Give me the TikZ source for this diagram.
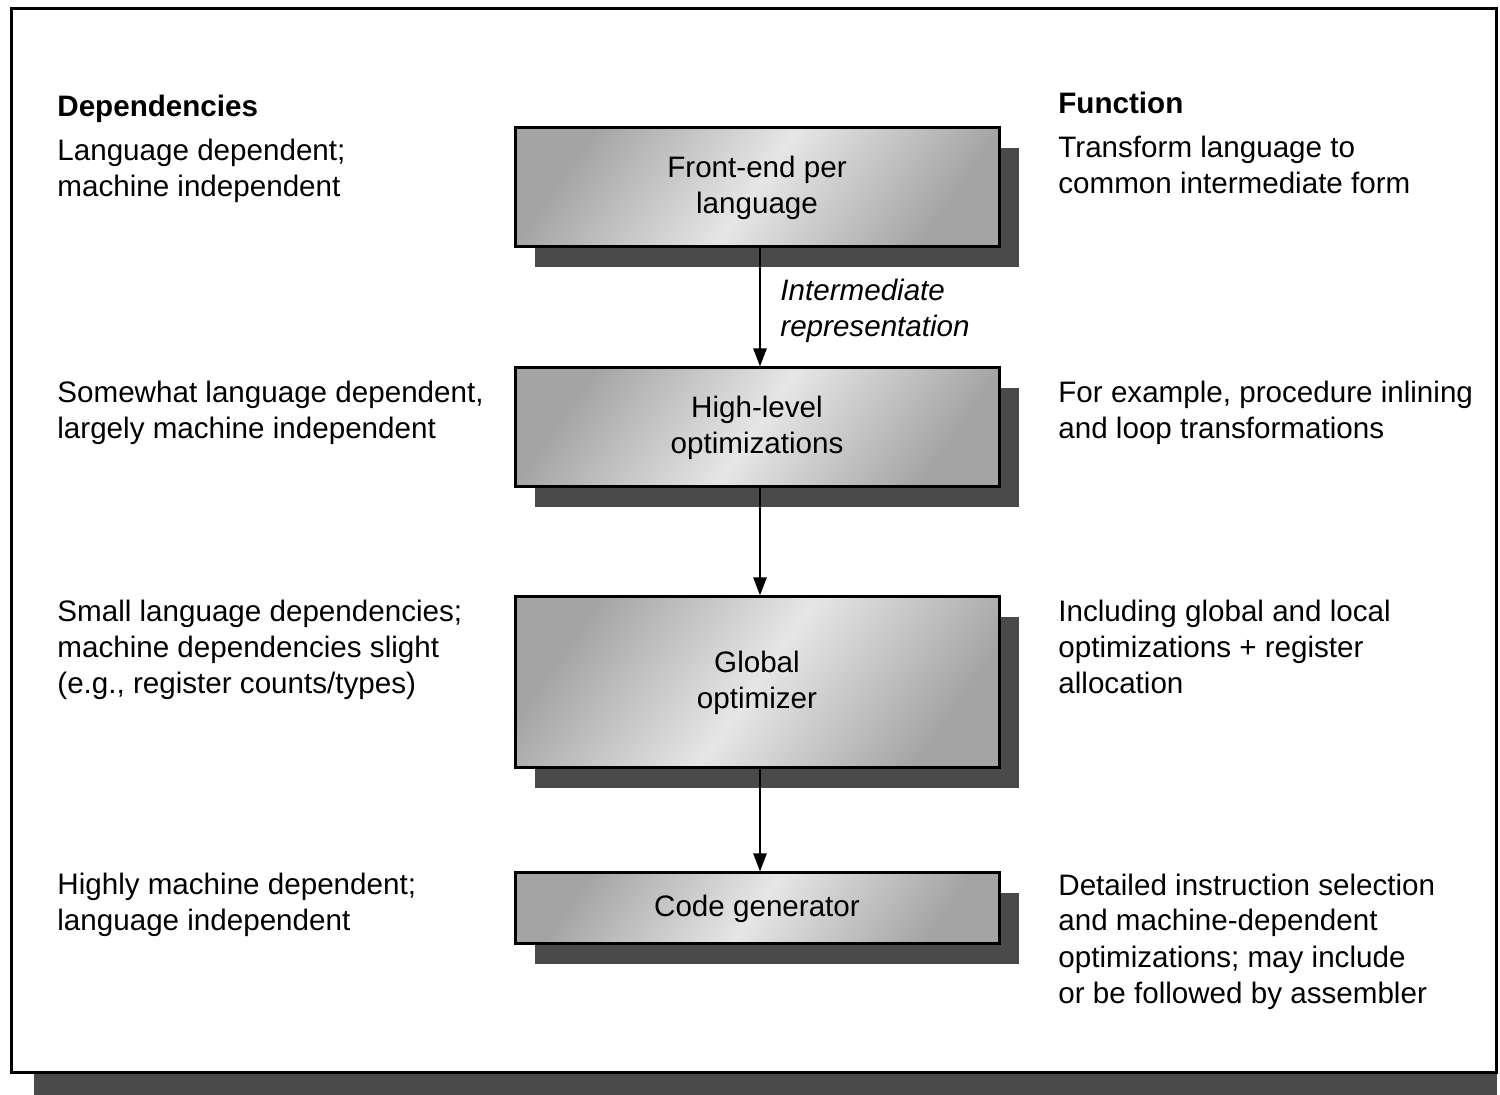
\documentclass[tikz,border=0pt]{standalone}
\usepackage{fontspec}
\setmainfont{Liberation Sans}
\usetikzlibrary{arrows.meta,shadows}
\definecolor{shadowgray}{HTML}{4A4A4A}
\definecolor{boxedge}{HTML}{A4A4A4}
\definecolor{boxlight}{HTML}{E6E6E6}
\begin{document}
\begin{tikzpicture}[x=0.5pt,y=-0.5pt,
  every node/.style={font=\fontsize{14.8}{18}\selectfont},
  stage/.style={draw=black, line width=1.5pt,
    left color=boxedge, right color=boxedge, middle color=boxlight,
    shading angle=55,
    drop shadow={shadow xshift=10pt, shadow yshift=-10pt, opacity=1, fill=shadowgray},
    minimum width=242pt, inner sep=0pt, align=center},
  flow/.style={line width=1.3pt, -{Triangle[length=9pt,width=6.5pt]}},
  % multi-line notes are placed by the baseline of their last line
  note/.style={anchor=base west, inner sep=0pt, align=left},
  head/.style={note, font=\fontsize{14.8}{18}\selectfont\bfseries}]

  \useasboundingbox (0,0) rectangle (1500,1095);

  % outer frame with its shadow
  \fill[shadowgray] (34,30) rectangle (1497,1095);
  \draw[fill=white, line width=1.5pt] (11.5,8.5) rectangle (1496,1072);

  % pipeline stages
  \node[stage, minimum height=59.5pt] (fe) at (757,187.5) {Front-end per\\language};
  \node[stage, minimum height=59.5pt] (hl) at (757,427.5) {High-level\\optimizations};
  \node[stage, minimum height=85.5pt] (go) at (757,682.5) {Global\\optimizer};
  \node[stage, minimum height=35.5pt] (cg) at (757,908.5) {Code generator};

  % connectors
  \draw[flow] ([xshift=1.5pt]fe.south) -- ([xshift=1.5pt]hl.north);
  \draw[flow] ([xshift=1.5pt]hl.south) -- ([xshift=1.5pt]go.north);
  \draw[flow] ([xshift=1.5pt]go.south) -- ([xshift=1.5pt]cg.north);

  \node[note, font=\fontsize{14.8}{18}\selectfont\itshape] (ir) at (780,337) {Intermediate\\representation};

  % dependencies column
  \node[head] (dh) at (57,117) {Dependencies};
  \node[note] (d1) at (57,197) {Language dependent;\\machine independent};
  \node[note] (d2) at (57,439) {Somewhat language dependent,\\largely machine independent};
  \node[note] (d3) at (57,694) {Small language dependencies;\\machine dependencies slight\\(e.g., register counts/types)};
  \node[note] (d4) at (57,931) {Highly machine dependent;\\language independent};

  % function column
  \node[head] (fh) at (1058,114) {Function};
  \node[note] (f1) at (1058,194) {Transform language to\\common intermediate form};
  \node[note] (f2) at (1058,439) {For example, procedure inlining\\and loop transformations};
  \node[note] (f3) at (1058,694) {Including global and local\\optimizations + register\\allocation};
  \node[note] (f4) at (1058,1003) {Detailed instruction selection\\and machine-dependent\\optimizations; may include\\or be followed by assembler};
\end{tikzpicture}
\end{document}
